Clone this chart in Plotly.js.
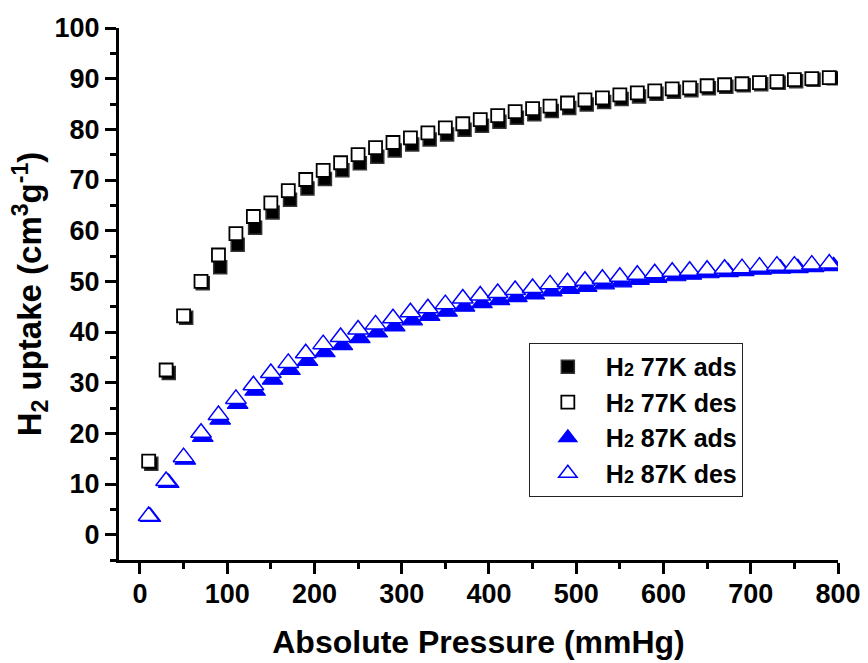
<!DOCTYPE html>
<html>
<head>
<meta charset="utf-8">
<script src="https://cdn.plot.ly/plotly-3.0.1.min.js"></script>
<style>html,body{margin:0;padding:0;background:#fff;}#chart{width:868px;height:663px;}</style>
</head>
<body>
<div id="chart"></div>
<script>
// 77 K isotherm
const p77ads = [13, 33, 53, 72, 92, 112, 132, 152, 172, 192, 212, 232, 252, 272, 292, 312, 332, 352, 372, 392, 412, 432, 452, 472, 492, 512, 532, 552, 572, 592, 612, 632, 652, 672, 692, 712, 732, 752, 772, 795];
const q77ads = [14.0, 31.9, 42.8, 49.6, 52.8, 57.2, 60.6, 63.6, 66.1, 68.3, 70.2, 71.9, 73.3, 74.6, 75.8, 77.0, 78.0, 79.0, 79.9, 80.7, 81.5, 82.3, 83.0, 83.6, 84.2, 84.9, 85.4, 86.0, 86.5, 87.0, 87.4, 87.7, 88.1, 88.4, 88.7, 88.9, 89.2, 89.5, 89.8, 90.1];
const p77des = [10, 30, 50, 70, 90, 110, 130, 150, 170, 190, 210, 230, 250, 270, 290, 310, 330, 350, 370, 390, 410, 430, 450, 470, 490, 510, 530, 550, 570, 590, 610, 630, 650, 670, 690, 710, 730, 750, 770, 790];
const q77des = [14.5, 32.5, 43.2, 50.0, 55.2, 59.4, 62.8, 65.5, 67.9, 70.1, 71.9, 73.4, 75.0, 76.4, 77.4, 78.3, 79.3, 80.3, 81.1, 81.9, 82.7, 83.5, 84.1, 84.6, 85.2, 85.8, 86.2, 86.8, 87.2, 87.6, 88.0, 88.2, 88.6, 88.8, 89.0, 89.2, 89.4, 89.8, 90.0, 90.2];
// 87 K isotherm
const p87ads = [12, 33, 52, 72, 92, 112, 132, 152, 172, 192, 212, 232, 252, 272, 292, 312, 332, 352, 372, 392, 412, 432, 452, 472, 492, 512, 532, 552, 572, 592, 614, 632, 652, 674, 692, 712, 734, 754, 772, 795];
const q87ads = [3.5, 10.2, 14.8, 19.3, 22.7, 25.8, 28.4, 30.6, 32.5, 34.3, 36.0, 37.4, 38.8, 39.9, 41.1, 42.3, 43.2, 44.0, 45.0, 45.7, 46.3, 46.9, 47.4, 48.0, 48.5, 48.9, 49.4, 49.8, 50.3, 50.7, 51.0, 51.3, 51.6, 51.8, 52.0, 52.3, 52.5, 52.6, 52.8, 53.0];
const p87des = [10, 30, 50, 70, 90, 110, 130, 150, 170, 190, 210, 230, 250, 270, 290, 310, 330, 350, 370, 390, 410, 430, 450, 470, 490, 510, 530, 550, 570, 590, 610, 630, 650, 670, 690, 710, 730, 750, 770, 790];
const q87des = [3.7, 10.6, 15.3, 20.1, 23.6, 26.8, 29.5, 31.9, 33.9, 35.8, 37.6, 39.0, 40.5, 41.5, 42.7, 43.9, 44.7, 45.5, 46.6, 47.2, 47.7, 48.3, 48.7, 49.4, 49.8, 50.1, 50.5, 50.9, 51.3, 51.6, 51.9, 52.1, 52.3, 52.5, 52.6, 52.9, 53.1, 53.1, 53.3, 53.5];

const seriesNames = [
  "H<span style='font-size:18px'>2</span> 77K ads",
  "H<span style='font-size:18px'>2</span> 77K des",
  "H<span style='font-size:18px'>2</span> 87K ads",
  "H<span style='font-size:18px'>2</span> 87K des"
];
const xTicks = [0, 100, 200, 300, 400, 500, 600, 700, 800];
const yTicks = [0, 10, 20, 30, 40, 50, 60, 70, 80, 90, 100];

const FONT = "Liberation Sans, Arial, Helvetica, sans-serif";

const traces = [
  {x: p77ads, y: q77ads, name: seriesNames[0], type: 'scatter', mode: 'markers',
   marker: {symbol: 'square', size: 13, color: '#000000', line: {color: '#333333', width: 1.5}}},
  {x: p77des, y: q77des, name: seriesNames[1], type: 'scatter', mode: 'markers',
   marker: {symbol: 'square', size: 13, color: '#ffffff', line: {color: '#000000', width: 1.8}}},
  {x: p87ads, y: q87ads, name: seriesNames[2], type: 'scatter', mode: 'markers',
   marker: {symbol: 'triangle-up', size: 18, color: '#0000ff', line: {color: '#0000ff', width: 1.2}}},
  {x: p87des, y: q87des, name: seriesNames[3], type: 'scatter', mode: 'markers',
   marker: {symbol: 'triangle-up', size: 18, color: '#ffffff', line: {color: '#0000ff', width: 1.5}}}
];

const layout = {
  width: 868, height: 663,
  margin: {l: 119, r: 30, t: 28, b: 103},
  paper_bgcolor: '#ffffff', plot_bgcolor: '#ffffff',
  font: {family: FONT, color: '#000000'},
  showlegend: true,
  legend: {
    x: 0.570, y: 0.408, xanchor: 'left', yanchor: 'top',
    bgcolor: '#ffffff', bordercolor: '#222222', borderwidth: 1,
    font: {family: FONT, size: 25, weight: 'bold', color: '#000000'},
    itemwidth: 66
  },
  xaxis: {
    range: [-24, 800], tickvals: xTicks, ticktext: xTicks.map(String),
    showline: true, linewidth: 3, linecolor: '#000000', mirror: false,
    showgrid: false, zeroline: false,
    ticks: 'outside', ticklen: 11, tickwidth: 3, tickcolor: '#000000',
    tickfont: {family: FONT, size: 27, weight: 'bold'},
    ticklabelstandoff: -3,
    minor: {dtick: 50, tick0: 0, ticks: 'outside', ticklen: 6, tickwidth: 3, tickcolor: '#000000', showgrid: false},
    title: {text: 'Absolute Pressure (mmHg)', font: {family: FONT, size: 32, weight: 'bold'}, standoff: 23},
    automargin: false
  },
  yaxis: {
    range: [-5, 100], tickvals: yTicks, ticktext: yTicks.map(String),
    showline: true, linewidth: 3, linecolor: '#000000', mirror: false,
    showgrid: false, zeroline: false,
    ticks: 'outside', ticklen: 11, tickwidth: 3, tickcolor: '#000000',
    tickfont: {family: FONT, size: 27, weight: 'bold'},
    minor: {dtick: 5, tick0: 0, ticks: 'outside', ticklen: 6, tickwidth: 3, tickcolor: '#000000', showgrid: false},
    title: {text: 'H<sub>2</sub> uptake (cm<sup>3</sup>g<sup>-1</sup>)', font: {family: FONT, size: 33, weight: 'bold'}, standoff: 3},
    automargin: false
  }
};

Plotly.newPlot('chart', traces, layout, {displayModeBar: false, staticPlot: true});
</script>
</body>
</html>
